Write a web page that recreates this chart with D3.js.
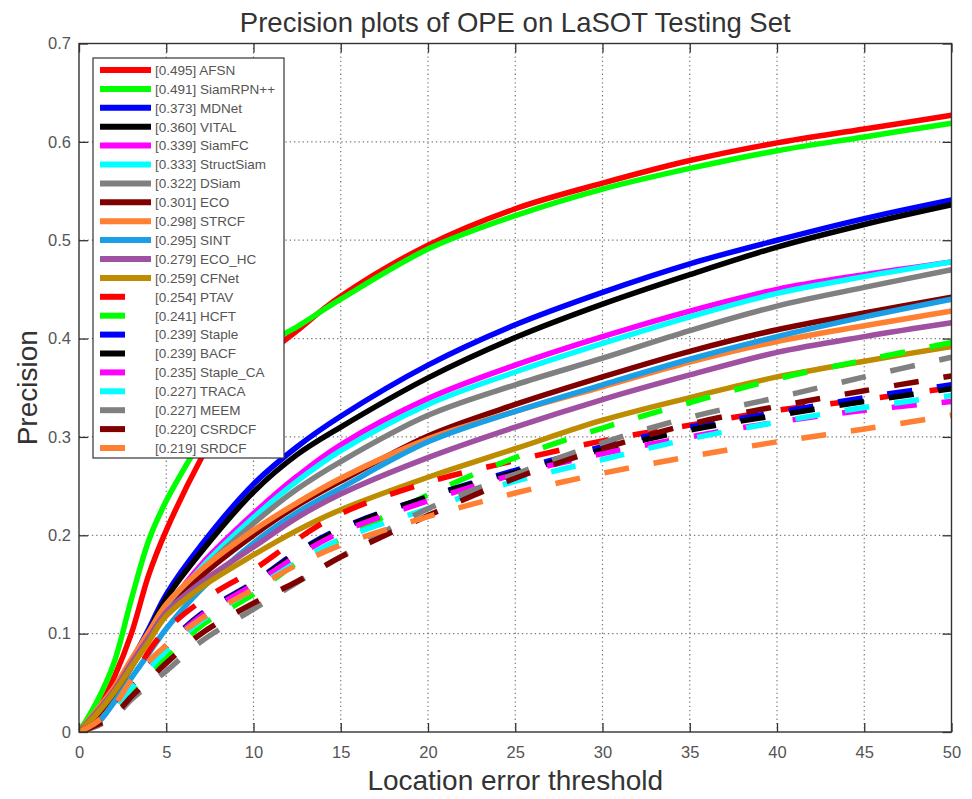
<!DOCTYPE html>
<html>
<head>
<meta charset="utf-8">
<script src="https://cdn.jsdelivr.net/npm/d3@7"></script>
<style>
  body { margin: 0; background: #fff; }
  svg { font-family: "Liberation Sans", Arial, sans-serif; }
</style>
</head>
<body>
<svg id="chart" width="972" height="799"></svg>
<script>
const thresholds = [0, 1, 2, 3, 4, 5, 7, 10, 12.5, 15, 20, 25, 30, 35, 40, 45, 50];

const trackers = ['AFSN', 'SiamRPN++', 'MDNet', 'VITAL', 'SiamFC', 'StructSiam', 'DSiam', 'ECO',
  'STRCF', 'SINT', 'ECO_HC', 'CFNet', 'PTAV', 'HCFT', 'Staple', 'BACF', 'Staple_CA', 'TRACA',
  'MEEM', 'CSRDCF', 'SRDCF'];
const scores = ['0.495', '0.491', '0.373', '0.360', '0.339', '0.333', '0.322', '0.301', '0.298',
  '0.295', '0.279', '0.259', '0.254', '0.241', '0.239', '0.239', '0.235', '0.227', '0.227',
  '0.220', '0.219'];
const colors = ['#ff0000', '#00ff00', '#0000ff', '#000000', '#ff00ff', '#00ffff', '#808080',
  '#800000', '#ff8033', '#1a9fe6', '#a050a0', '#be8c00',
  '#ff0000', '#00ff00', '#0000ff', '#000000', '#ff00ff', '#00ffff', '#808080', '#800000', '#ff8033'];
// first 12 trackers are solid, the rest dashed
const dashed = trackers.map((t, i) => i >= 12);

const precision = [
  [0, .020, .055, .100, .160, .205, .278, .370, .408, .443, .495, .532, .558, .581, .599, .613, .627],
  [0, .030, .070, .135, .195, .235, .297, .385, .412, .440, .491, .525, .552, .573, .591, .605, .619],
  [0, .018, .042, .072, .105, .140, .190, .252, .290, .321, .373, .414, .447, .476, .500, .522, .541],
  [0, .017, .041, .070, .102, .136, .183, .244, .282, .310, .360, .401, .435, .465, .493, .516, .536],
  [0, .020, .042, .070, .098, .125, .170, .222, .260, .292, .339, .373, .402, .428, .450, .465, .478],
  [0, .018, .040, .068, .096, .123, .167, .218, .255, .286, .333, .366, .395, .422, .446, .463, .478],
  [0, .017, .038, .066, .094, .120, .163, .212, .247, .275, .322, .353, .380, .408, .433, .452, .470],
  [0, .016, .038, .066, .094, .120, .158, .200, .230, .255, .301, .333, .361, .387, .409, .426, .442],
  [0, .022, .045, .074, .102, .130, .165, .205, .233, .258, .298, .326, .351, .376, .397, .413, .428],
  [0, .008, .030, .055, .080, .105, .145, .192, .223, .248, .295, .326, .353, .379, .402, .422, .440],
  [0, .020, .042, .070, .096, .122, .152, .188, .218, .242, .279, .310, .338, .363, .386, .402, .416],
  [0, .018, .040, .066, .092, .118, .147, .180, .205, .226, .259, .288, .317, .340, .361, .377, .392],
  [0, .010, .025, .050, .082, .104, .133, .165, .196, .222, .254, .276, .296, .312, .327, .338, .350],
  [0, .008, .020, .042, .058, .075, .108, .140, .172, .196, .241, .279, .309, .335, .359, .378, .396],
  [0, .009, .022, .048, .068, .088, .120, .152, .183, .207, .239, .266, .290, .310, .325, .340, .353],
  [0, .009, .022, .047, .067, .087, .119, .151, .182, .206, .239, .264, .287, .307, .322, .336, .349],
  [0, .009, .022, .047, .067, .087, .118, .150, .179, .203, .235, .262, .283, .300, .315, .327, .336],
  [0, .008, .021, .045, .064, .083, .113, .145, .173, .196, .227, .255, .277, .298, .315, .330, .342],
  [0, .006, .015, .033, .048, .062, .092, .125, .152, .178, .227, .262, .294, .320, .340, .361, .381],
  [0, .007, .017, .036, .053, .070, .100, .131, .153, .178, .220, .258, .288, .313, .331, .347, .362],
  [0, .010, .026, .053, .072, .088, .115, .145, .170, .190, .219, .243, .263, .280, .295, .308, .322]
];

const xTicks = d3.range(0, 51, 5);
const yTicks = d3.range(0, 0.71, 0.1);

const svg = d3.select('#chart');
const margin = {left: 79, top: 43.5, right: 972 - 951.5, bottom: 799 - 732};
const width = 972 - margin.left - margin.right;
const height = 799 - margin.top - margin.bottom;

const x = d3.scaleLinear().domain([0, 50]).range([0, width]);
const y = d3.scaleLinear().domain([0, 0.7]).range([height, 0]);

const g = svg.append('g').attr('transform', `translate(${margin.left},${margin.top})`);

svg.append('defs').append('clipPath').attr('id', 'plot-clip')
  .append('rect').attr('width', width).attr('height', height);

// Dotted grid
g.append('g').selectAll('line').data(xTicks.slice(1, -1)).join('line')
  .attr('x1', d => x(d)).attr('x2', d => x(d)).attr('y1', 0).attr('y2', height)
  .attr('stroke', '#777').attr('stroke-width', 1.2).attr('stroke-dasharray', '1.3,3');
g.append('g').selectAll('line').data(yTicks.slice(1, -1)).join('line')
  .attr('y1', d => y(d)).attr('y2', d => y(d)).attr('x1', 0).attr('x2', width)
  .attr('stroke', '#777').attr('stroke-width', 1.2).attr('stroke-dasharray', '1.3,3');

// Curves
const line = d3.line()
  .x((d, i) => x(thresholds[i]))
  .y(d => y(d))
  .curve(d3.curveCatmullRom.alpha(0.5));

g.append('g').attr('clip-path', 'url(#plot-clip)')
  .selectAll('path').data(precision).join('path')
  .attr('d', line)
  .attr('fill', 'none')
  .attr('stroke', (d, i) => colors[i])
  .attr('stroke-width', 5.5)
  .attr('stroke-dasharray', (d, i) => dashed[i] ? '25,25' : null);

// Axes with inward ticks, matlab style box
const tickLen = 9;
const axisStyle = sel => {
  sel.select('.domain').remove();
  sel.selectAll('.tick line').attr('stroke', '#333').attr('stroke-width', 1.3);
  sel.selectAll('.tick text').attr('fill', '#555').style('font-size', '16.5px');
};
g.append('g').attr('transform', `translate(0,${height})`)
  .call(d3.axisBottom(x).tickValues(xTicks).tickSizeInner(-tickLen).tickPadding(14).tickFormat(d3.format('d')))
  .call(axisStyle);
g.append('g')
  .call(d3.axisLeft(y).tickValues(yTicks).tickSizeInner(-tickLen).tickPadding(8).tickFormat(d => d === 0 ? '0' : d3.format('.1f')(d)))
  .call(axisStyle);
g.append('g')
  .call(d3.axisTop(x).tickValues(xTicks).tickSizeInner(-tickLen).tickFormat(''))
  .call(axisStyle);
g.append('g').attr('transform', `translate(${width},0)`)
  .call(d3.axisRight(y).tickValues(yTicks).tickSizeInner(-tickLen).tickFormat(''))
  .call(axisStyle);
g.selectAll('.tick text').attr('font-family', null);

g.append('rect').attr('width', width).attr('height', height)
  .attr('fill', 'none').attr('stroke', '#333').attr('stroke-width', 1.4);

// Legend
const legend = g.append('g').attr('transform', `translate(${93 - margin.left},${58 - margin.top})`);
legend.append('rect').attr('width', 191).attr('height', 400)
  .attr('fill', '#fff').attr('stroke', '#333').attr('stroke-width', 1.2);
const rows = legend.selectAll('g').data(trackers).join('g')
  .attr('transform', (d, i) => `translate(0,${12 + i * 18.9})`);
rows.append('line')
  .attr('x1', 7).attr('x2', (d, i) => dashed[i] ? 32 : 58)
  .attr('stroke', (d, i) => colors[i]).attr('stroke-width', 6);
rows.append('text')
  .attr('x', 62).attr('y', 4.8)
  .attr('fill', '#555').style('font-size', '13.5px')
  .text((d, i) => `[${scores[i]}] ${d}`);

// Titles
svg.append('text').attr('x', margin.left + width / 2).attr('y', 32)
  .attr('text-anchor', 'middle').attr('fill', '#333').style('font-size', '27.5px')
  .text('Precision plots of OPE on LaSOT Testing Set');
svg.append('text').attr('x', margin.left + width / 2).attr('y', 790)
  .attr('text-anchor', 'middle').attr('fill', '#333').style('font-size', '28px')
  .text('Location error threshold');
svg.append('text').attr('transform', `translate(37,${margin.top + height / 2}) rotate(-90)`)
  .attr('text-anchor', 'middle').attr('fill', '#333').style('font-size', '28px')
  .text('Precision');
</script>
</body>
</html>
